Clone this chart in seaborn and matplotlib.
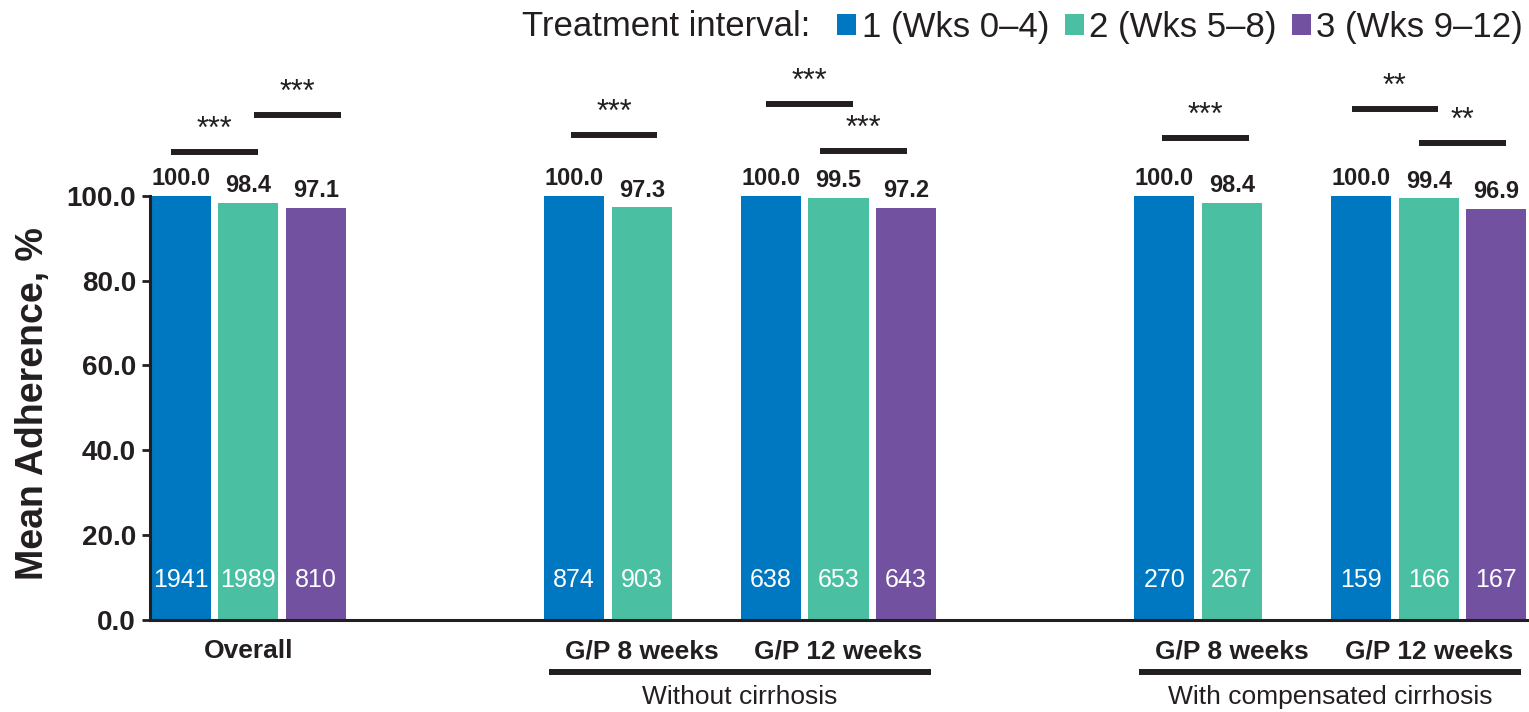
import numpy as np
import pandas as pd
import matplotlib
matplotlib.use("Agg")
import matplotlib.pyplot as plt
import seaborn as sns

# ---- data ----
intervals = ["1 (Wks 0–4)", "2 (Wks 5–8)", "3 (Wks 9–12)"]
groups = ["Overall", "NC 8", "NC 12", "CC 8", "CC 12"]
group_labels = ["Overall", "G/P 8 weeks", "G/P 12 weeks", "G/P 8 weeks", "G/P 12 weeks"]

overall_adh = [100.0, 98.4, 97.1]
overall_n = [1941, 1989, 810]
nc8_adh = [100.0, 97.3]
nc8_n = [874, 903]
nc12_adh = [100.0, 99.5, 97.2]
nc12_n = [638, 653, 643]
cc8_adh = [100.0, 98.4]
cc8_n = [270, 267]
cc12_adh = [100.0, 99.4, 96.9]
cc12_n = [159, 166, 167]

subgroups = ["Without cirrhosis", "With compensated cirrhosis"]
subgroup_members = [["NC 8", "NC 12"], ["CC 8", "CC 12"]]

# pairwise comparisons: (group, interval a, interval b, significance)
comparisons = [
    ("Overall", 0, 1, "***"),
    ("Overall", 1, 2, "***"),
    ("NC 8", 0, 1, "***"),
    ("NC 12", 0, 1, "***"),
    ("NC 12", 1, 2, "***"),
    ("CC 8", 0, 1, "***"),
    ("CC 12", 0, 1, "**"),
    ("CC 12", 1, 2, "**"),
]

# ---- layout / style ----
bracket_levels = [110.4, 119.1, 114.4, 121.7, 110.6, 113.7, 120.5, 112.5]
bracket_shifts = [0.0, 0.077, 0.03, 0.024, -0.045, 0.037, 0.0, 0.0]
colors = ["#0078C1", "#4BBFA2", "#7251A1"]
ink = "#231f20"
order = ["Overall", "_gap1", "NC 8", "NC 12", "_gap2", "CC 8", "CC 12"]
DODGE_WIDTH = 1.03

adh = {"Overall": overall_adh, "NC 8": nc8_adh, "NC 12": nc12_adh,
       "CC 8": cc8_adh, "CC 12": cc12_adh}
counts = {"Overall": overall_n, "NC 8": nc8_n, "NC 12": nc12_n,
          "CC 8": cc8_n, "CC 12": cc12_n}

rows = []
for g in groups:
    for k, v in enumerate(adh[g]):
        rows.append({"group": g, "interval": intervals[k], "adherence": v,
                     "n": counts[g][k]})
df = pd.DataFrame(rows)

sns.set_theme(style="ticks")
plt.rcParams["font.family"] = ["Liberation Sans", "DejaVu Sans"]
plt.rcParams["text.color"] = ink

W, H = 1529, 712
fig = plt.figure(figsize=(W / 100, H / 100), dpi=100)
ax = fig.add_axes([150 / W, (H - 620) / H, (W - 150) / W, (620 - 26) / H])

sns.barplot(data=df, x="group", y="adherence", hue="interval", order=order,
            hue_order=intervals, palette=colors, width=DODGE_WIDTH, gap=0.11,
            errorbar=None, saturation=1, linewidth=0, ax=ax)

ax.set_xlim(-0.5, 6.51)
ax.set_ylim(0, 140)

# value labels above bars, sample sizes inside bars
for k, cont in enumerate(ax.containers):
    ax.bar_label(cont, fmt="%.1f", padding=4, fontsize=17, fontweight="bold",
                 color=ink)
    for bar in cont:
        xc = bar.get_x() + bar.get_width() / 2
        key = order[int(round(xc))]
        ax.text(xc, 9.5, str(counts[key][k]), ha="center", va="center",
                fontsize=18, color="white")

# significance brackets
def bar_center(group, k):
    return order.index(group) + (k - 1) * DODGE_WIDTH / 3

for (g, a, b, sig), lvl, dx in zip(comparisons, bracket_levels, bracket_shifts):
    mid = (bar_center(g, a) + bar_center(g, b)) / 2 + dx
    ax.plot([mid - 0.22, mid + 0.22], [lvl, lvl], color=ink, lw=4.3,
            solid_capstyle="butt", clip_on=False)
    ax.text(mid, lvl + 1.5, sig, ha="center", va="bottom", fontsize=22,
            color=ink)

# axes styling
sns.despine(ax=ax)
ax.spines["left"].set_bounds(0, 100)
for s in ("left", "bottom"):
    ax.spines[s].set_linewidth(2.2)
    ax.spines[s].set_color(ink)
ax.set_yticks(np.arange(0, 101, 20))
ax.yaxis.set_major_formatter("{x:.1f}")
ax.tick_params(axis="y", length=6, width=2, color=ink, pad=4, labelsize=20,
               labelcolor=ink)
for t in ax.get_yticklabels():
    t.set_fontweight("bold")

ax.set_xticks(range(len(order)))
tick_text = []
for key in order:
    tick_text.append(group_labels[groups.index(key)] if key in groups else "")
ax.set_xticklabels(tick_text, fontsize=19, fontweight="bold", color=ink)
ax.tick_params(axis="x", length=0, pad=14)
ax.set_xlabel("")
ax.set_ylabel("Mean Adherence, %", fontsize=27, fontweight="bold", color=ink)
ax.yaxis.set_label_coords(-0.072, 50.9 / 140)

# subgroup underlines and captions
for name, members in zip(subgroups, subgroup_members):
    x0 = order.index(members[0]) - 0.47
    x1 = order.index(members[-1]) + 0.47
    ax.plot([x0, x1], [-12.3, -12.3], color=ink, lw=4.3,
            solid_capstyle="butt", clip_on=False)
    ax.text((x0 + x1) / 2, -18.1, name, ha="center", va="center",
            fontsize=19, color=ink)

# legend across the top
handles, labels = ax.get_legend_handles_labels()
if ax.get_legend() is not None:
    ax.get_legend().remove()
fig.legend(handles, labels, loc="center right",
           bbox_to_anchor=(1523 / W, 1 - 27 / H), ncol=3, frameon=False,
           fontsize=25, handlelength=0.55, handleheight=0.55,
           handletextpad=0.15, columnspacing=0.45, borderaxespad=0,
           borderpad=0)
fig.text(810 / W, 1 - 27 / H, "Treatment interval:", ha="right",
         va="center", fontsize=25, color=ink)

fig.savefig("out.png", dpi=100)
